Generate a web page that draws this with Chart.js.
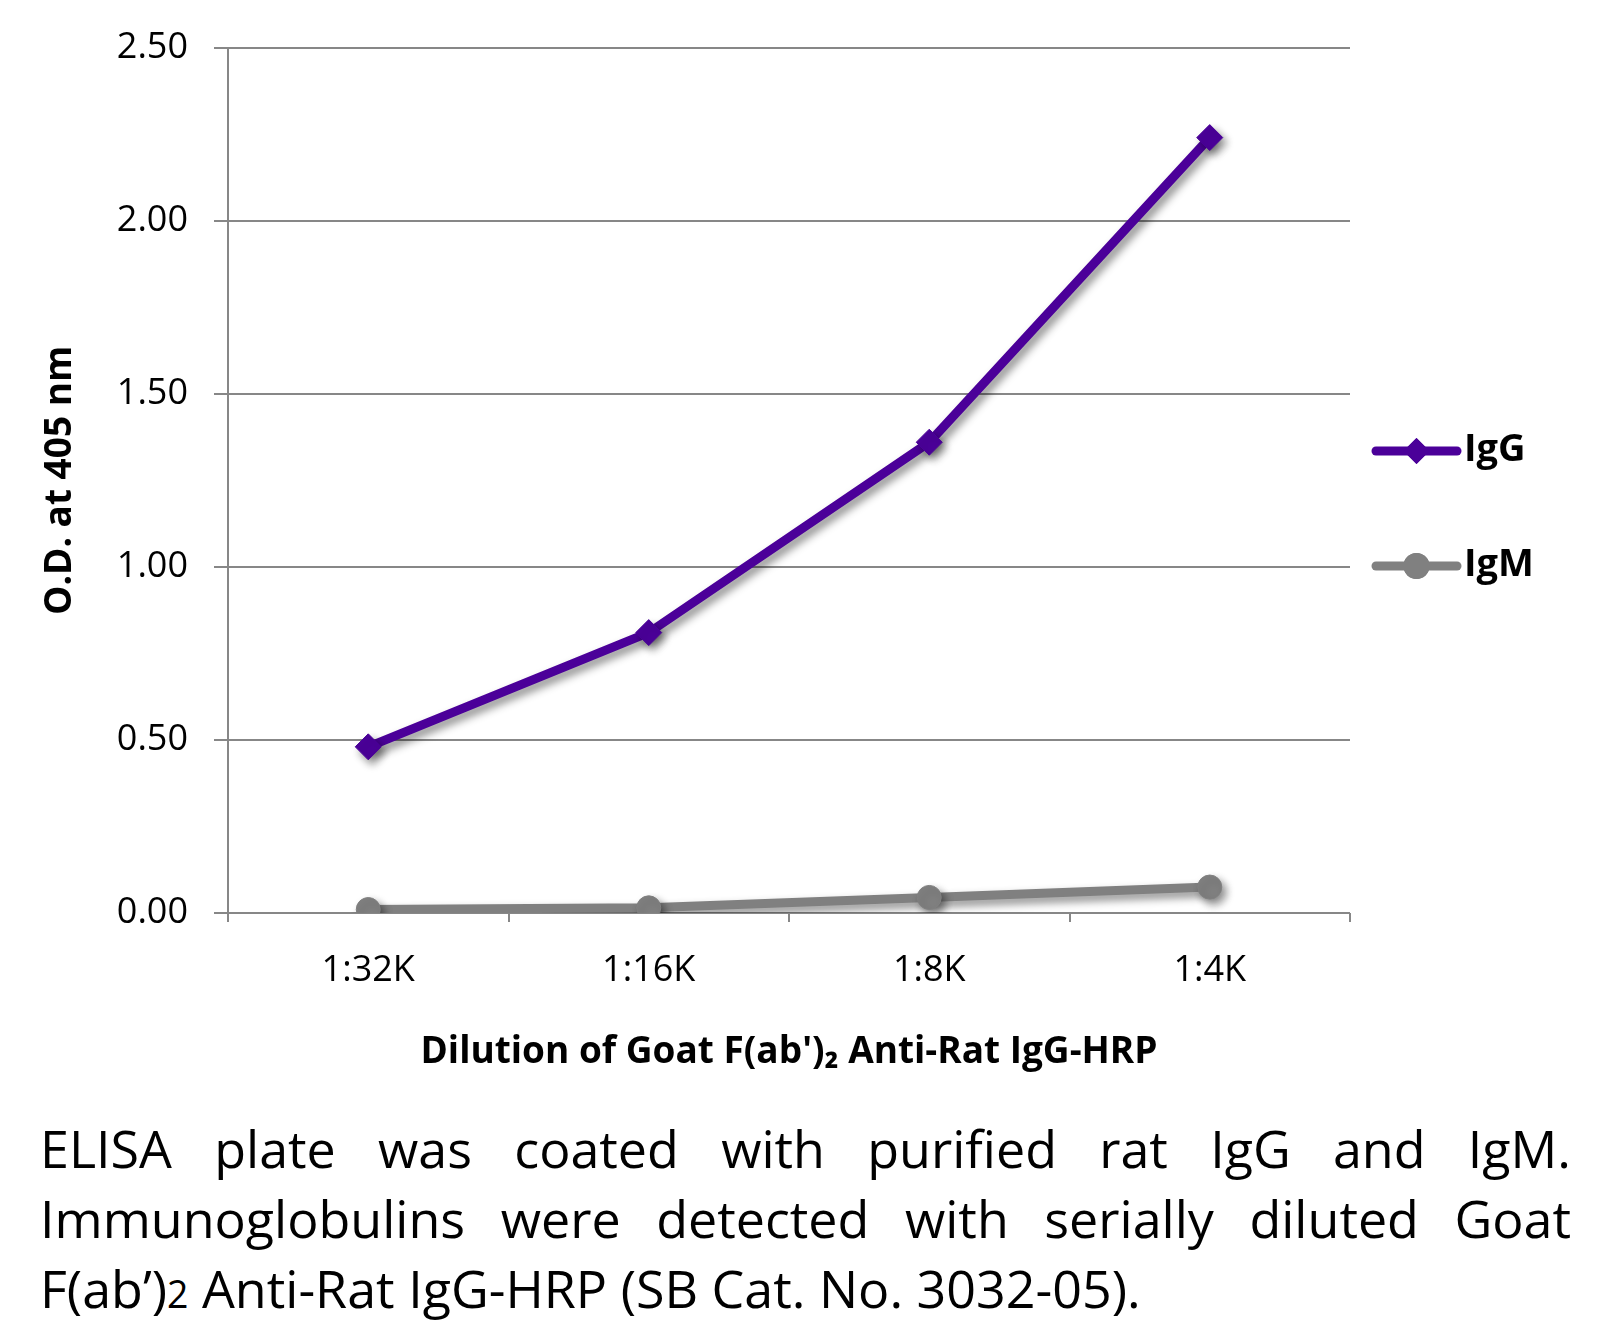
<!DOCTYPE html>
<html>
<head>
<meta charset="utf-8">
<script src="https://cdn.jsdelivr.net/npm/chart.js@4.4.1/dist/chart.umd.min.js"></script>
<style>
  html, body { margin: 0; padding: 0; background: #fff; }
  #wrap { position: relative; width: 1617px; height: 1085px; }
  #caption {
    position: absolute; left: 40px; top: 1113px; width: 1531px;
    font-family: "Open Sans", sans-serif; font-size: 52px; line-height: 70px; color: #000;
  }
  #caption div { text-align: justify; text-align-last: justify; white-space: nowrap; }
  #caption div.last { text-align-last: left; }
  #caption small { font-size: 0.72em; }
</style>
</head>
<body>
<div id="wrap"><canvas id="chart" width="1617" height="1085"></canvas></div>
<div id="caption">
  <div>ELISA plate was coated with purified rat IgG and IgM.</div>
  <div>Immunoglobulins were detected with serially diluted Goat</div>
  <div class="last">F(ab’)<small>2</small> Anti-Rat IgG-HRP (SB Cat. No. 3032-05).</div>
</div>
<script>
const dilutions = ['1:32K', '1:16K', '1:8K', '1:4K'];
const iggValues = [0.48, 0.81, 1.36, 2.24];
const igmValues = [0.01, 0.015, 0.045, 0.075];
const seriesNames = ['IgG', 'IgM'];
const seriesColors = ['#4B0099', '#808080'];
const seriesMarkers = ['rectRot', 'circle'];

const gridGray = '#878787';

// soft drop shadow under the lines and markers
const shadowPlugin = {
    id: 'shadow',
    beforeDatasetsDraw(chart) {
        const ctx = chart.ctx;
        ctx.save();
        ctx.shadowColor = 'rgba(0,0,0,0.45)';
        ctx.shadowBlur = 8;
        ctx.shadowOffsetX = 4;
        ctx.shadowOffsetY = 5;
    },
    afterDatasetsDraw(chart) {
        chart.ctx.restore();
    }
};

// legend on the right: thick line with marker, bold label
const sideLegend = {
    id: 'sideLegend',
    afterDraw(chart) {
        const ctx = chart.ctx;
        const x0 = chart.chartArea.right + 26;
        const x1 = x0 + 81;
        const rows = [451, 566];
        chart.data.datasets.forEach((ds, i) => {
            const y = rows[i];
            ctx.save();
            ctx.strokeStyle = ds.borderColor;
            ctx.lineWidth = 9;
            ctx.lineCap = 'round';
            ctx.beginPath();
            ctx.moveTo(x0, y);
            ctx.lineTo(x1, y);
            ctx.stroke();
            ctx.fillStyle = ds.borderColor;
            Chart.helpers.drawPoint(ctx, { pointStyle: ds.pointStyle, radius: 13, rotation: 0, borderWidth: 0 }, (x0 + x1) / 2, y);
            ctx.fill();
            ctx.fillStyle = '#000';
            ctx.font = 'bold 38px "Open Sans"';
            ctx.textBaseline = 'middle';
            ctx.fillText(ds.label, x1 + 7, y - 1);
            ctx.restore();
        });
    }
};

const ctx = document.getElementById('chart').getContext('2d');
new Chart(ctx, {
    type: 'line',
    data: {
        labels: dilutions,
        datasets: [
            {
                label: seriesNames[0],
                data: iggValues,
                borderColor: seriesColors[0],
                backgroundColor: seriesColors[0],
                borderWidth: 9,
                pointStyle: seriesMarkers[0],
                pointRadius: 13,
                pointBorderWidth: 1,
                tension: 0
            },
            {
                label: seriesNames[1],
                data: igmValues,
                borderColor: seriesColors[1],
                backgroundColor: seriesColors[1],
                borderWidth: 9,
                pointStyle: seriesMarkers[1],
                pointRadius: 12,
                pointBorderWidth: 1,
                tension: 0
            }
        ]
    },
    options: {
        responsive: false,
        animation: false,
        layout: { padding: { top: 46, right: 267, left: 0, bottom: 0 } },
        plugins: { legend: { display: false }, tooltip: { enabled: false } },
        scales: {
            x: {
                offset: true,
                afterFit: s => { s.height = 172; },
                grid: { drawOnChartArea: false, tickLength: 9, color: gridGray, lineWidth: 2, offset: true },
                border: { display: false },
                ticks: { color: '#000', font: { family: 'Open Sans', size: 36 }, padding: 27 },
                title: {
                    display: true,
                    text: "Dilution of Goat F(ab')₂ Anti-Rat IgG-HRP",
                    color: '#000',
                    font: { family: 'Open Sans', size: 37, weight: 'bold' },
                    padding: { top: 10, bottom: 10 }
                }
            },
            y: {
                min: 0,
                max: 2.5,
                afterFit: s => { s.width = 228; },
                grid: { color: gridGray, lineWidth: 2, tickLength: 14 },
                border: { color: gridGray, width: 2 },
                ticks: {
                    stepSize: 0.5,
                    color: '#000',
                    font: { family: 'Open Sans', size: 36 },
                    padding: 26,
                    callback: v => v.toFixed(2)
                },
                title: {
                    display: true,
                    text: 'O.D. at 405 nm',
                    color: '#000',
                    font: { family: 'Open Sans', size: 37, weight: 'bold' },
                    padding: { top: 38, bottom: 0 }
                }
            }
        }
    },
    plugins: [shadowPlugin, sideLegend]
});
</script>
</body>
</html>
